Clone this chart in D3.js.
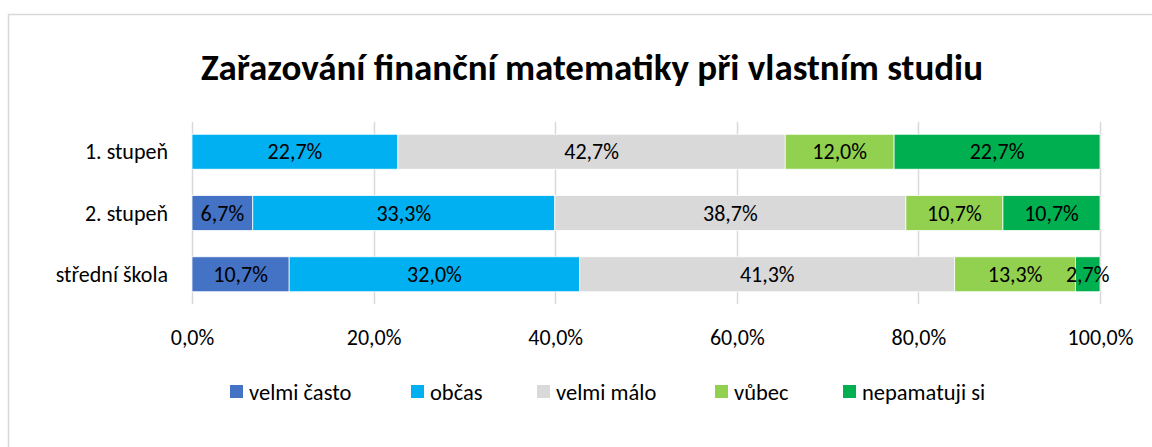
<!DOCTYPE html>
<html>

<head>
  <meta charset="utf-8">
  <title>Zařazování finanční matematiky</title>
  <script src="https://cdnjs.cloudflare.com/ajax/libs/d3/7.8.5/d3.min.js"></script>
  <style>
    body {
      margin: 0;
      background: #fff;
    }

    svg text {
      font-family: Calibri, Carlito, Lato, sans-serif;
      fill: #000;
    }
  </style>
</head>

<body>
  <div id="canvas"></div>

  <script>
    /*
    Chart data
    */
    var title = "Zařazování finanční matematiky při vlastním studiu";
    var categories = ["1. stupeň", "2. stupeň", "střední škola"];
    var seriesNames = ["velmi často", "občas", "velmi málo", "vůbec", "nepamatuji si"];
    var seriesColors = ["#4472C4", "#00B0F0", "#D9D9D9", "#92D050", "#00B050"];
    var velmiCasto = [0, 6.7, 10.7];
    var obcas = [22.7, 33.3, 32.0];
    var velmiMalo = [42.7, 38.7, 41.3];
    var vubec = [12.0, 10.7, 13.3];
    var nepamatuji = [22.7, 10.7, 2.7];
    var xTicks = [0, 0.2, 0.4, 0.6, 0.8, 1.0];

    var width = 1152,
      height = 447,
      margin = { left: 192, right: 52, top: 122, bottom: 143 };

    // rows for d3.stack
    var seriesValues = [velmiCasto, obcas, velmiMalo, vubec, nepamatuji];
    var rows = categories.map(function (c, i) {
      var r = { cat: c };
      seriesNames.forEach(function (s, j) { r[s] = seriesValues[j][i]; });
      return r;
    });

    var stack = d3.stack()
      .keys(seriesNames)
      .offset(d3.stackOffsetExpand);
    var layers = stack(rows);

    var x = d3.scaleLinear()
      .domain([0, 1])
      .range([margin.left, width - margin.right]);

    var y = d3.scaleBand()
      .domain(categories)
      .range([margin.top, height - margin.bottom])
      .paddingInner(0.43)
      .paddingOuter(0.2);

    var color = d3.scaleOrdinal()
      .domain(seriesNames)
      .range(seriesColors);

    var fmt = function (v) { return v.toFixed(1).replace(".", ",") + "%"; };

    var svg = d3.select("#canvas")
      .append("svg")
      .attr("width", width)
      .attr("height", height);

    // chart frame (only left/top edges visible in the crop)
    svg.append("rect")
      .attr("x", 8.5)
      .attr("y", 14.5)
      .attr("width", 1160)
      .attr("height", 460)
      .attr("fill", "#fff")
      .attr("stroke", "#D9D9D9")
      .attr("stroke-width", 1.5);

    svg.append("text")
      .attr("x", 592)
      .attr("y", 80)
      .attr("text-anchor", "middle")
      .style("font-size", "37px")
      .style("font-weight", "bold")
      .text(title);

    // gridlines
    svg.append("g")
      .selectAll("line")
      .data(xTicks)
      .enter()
      .append("line")
      .attr("x1", function (d) { return Math.round(x(d)) + 0.5; })
      .attr("x2", function (d) { return Math.round(x(d)) + 0.5; })
      .attr("y1", margin.top)
      .attr("y2", height - margin.bottom)
      .attr("stroke", "#D9D9D9")
      .attr("stroke-width", 1.5);

    // bars
    var g = svg.append("g");
    layers.forEach(function (layer) {
      g.append("g")
        .selectAll("rect")
        .data(layer)
        .enter()
        .append("rect")
        .attr("x", function (d) { return x(d[0]); })
        .attr("y", function (d) { return y(d.data.cat); })
        .attr("width", function (d) { return Math.max(0, x(d[1]) - x(d[0])); })
        .attr("height", y.bandwidth())
        .attr("fill", color(layer.key))
        .attr("stroke", "#fff")
        .attr("stroke-width", 0.75);

      g.append("g")
        .selectAll("text")
        .data(layer.filter(function (d) { return d.data[layer.key] > 0; }))
        .enter()
        .append("text")
        .attr("x", function (d) { return (x(d[0]) + x(d[1])) / 2; })
        .attr("y", function (d) { return y(d.data.cat) + y.bandwidth() / 2; })
        .attr("dy", "0.35em")
        .attr("text-anchor", "middle")
        .style("font-size", "22px")
        .text(function (d) { return fmt(d.data[layer.key]); });
    });

    // category axis labels
    svg.append("g")
      .selectAll("text")
      .data(categories)
      .enter()
      .append("text")
      .attr("x", 168)
      .attr("y", function (d) { return y(d) + y.bandwidth() / 2; })
      .attr("dy", "0.35em")
      .attr("text-anchor", "end")
      .style("font-size", "22px")
      .text(function (d) { return d; });

    // value axis
    var xAxis = d3.axisBottom(x)
      .tickValues(xTicks)
      .tickSize(0)
      .tickPadding(0)
      .tickFormat(function (d) { return (d * 100).toFixed(1).replace(".", ",") + "%"; });

    var ax = svg.append("g")
      .attr("transform", "translate(0,337)")
      .call(xAxis);
    ax.select(".domain").remove();
    ax.selectAll("text")
      .attr("dy", "0.35em")
      .attr("y", 0)
      .style("font-size", "22px")
      .style("font-family", null);

    // legend
    var legendX = [230, 411, 537, 715, 843];
    var leg = svg.append("g")
      .selectAll("g")
      .data(seriesNames)
      .enter()
      .append("g")
      .attr("transform", function (d, i) { return "translate(" + legendX[i] + ",392)"; });
    leg.append("rect")
      .attr("x", 0)
      .attr("y", -7)
      .attr("width", 13)
      .attr("height", 13)
      .attr("fill", function (d) { return color(d); });
    leg.append("text")
      .attr("x", 19)
      .attr("dy", "0.35em")
      .style("font-size", "22.5px")
      .text(function (d) { return d; });
  </script>
</body>

</html>
